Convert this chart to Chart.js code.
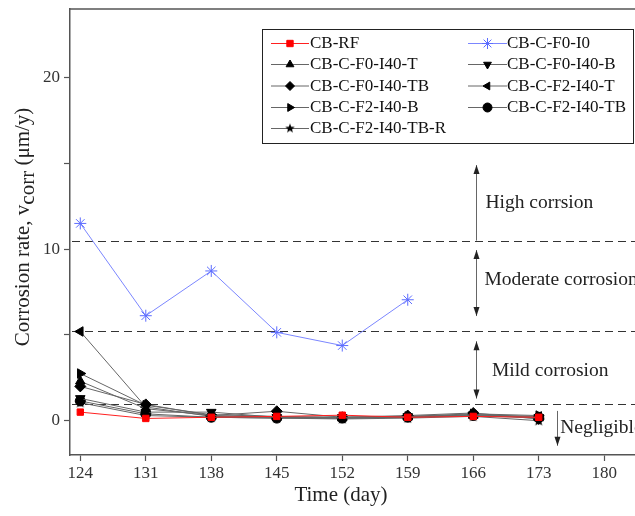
<!DOCTYPE html>
<html>
<head>
<meta charset="utf-8">
<script src="https://cdn.jsdelivr.net/npm/chart.js@4"></script>
<style>
  html, body { margin: 0; padding: 0; background: #fff; overflow: hidden; }
  canvas { display: block; }
</style>
</head>
<body>
<canvas id="chart" width="680" height="516" style="width:680px;height:516px"></canvas>
<script>
// ========= DATA ========= //
const days = [124, 131, 138, 145, 152, 159, 166, 173];
const xTicks = [124, 131, 138, 145, 152, 159, 166, 173, 180];
const yTicks = [0, 5, 10, 15, 20];
const yLabels = [0, 10, 20];

const cbRF      = [0.5, 0.13, 0.2, 0.25, 0.32, 0.2, 0.25, 0.2];
const cbF0I0    = [11.5, 6.12, 8.73, 5.15, 4.38, 7.05];
const cbF0I40T  = [2.3, 0.7, 0.3, 0.2, 0.15, 0.2, 0.3, 0.15];
const cbF0I40B  = [1.3, 0.5, 0.5, 0.2, 0.2, 0.25, 0.35, 0.2];
const cbF0I40TB = [2.0, 0.95, 0.3, 0.55, 0.2, 0.3, 0.45, 0.1];
const cbF2I40T  = [5.2, 0.8, 0.25, 0.2, 0.15, 0.2, 0.35, 0.25];
const cbF2I40B  = [2.75, 0.9, 0.35, 0.25, 0.2, 0.25, 0.4, 0.3];
const cbF2I40TB = [1.15, 0.4, 0.2, 0.15, 0.15, 0.2, 0.3, 0.2];
const cbF2I40TBR = [1.05, 0.3, 0.2, 0.15, 0.1, 0.15, 0.25, 0.0];

// corrosion level limits (dashed lines)
const limits = [10.5, 5.2, 1.0];

// ========= HELPERS ========= //
const FONT = '"Liberation Serif", "DejaVu Serif", serif';

function pts(vals) {
    return vals.map((v, i) => ({ x: days[i], y: v }));
}

// five pointed star marker (not built into Chart.js)
function makeStar(r) {
    const c = document.createElement("canvas");
    c.width = c.height = r * 2 + 2;
    const g = c.getContext("2d");
    g.fillStyle = "#000";
    g.beginPath();
    for (let k = 0; k < 10; k++) {
        const rr = k % 2 === 0 ? r : r * 0.42;
        const a = -Math.PI / 2 + k * Math.PI / 5;
        const px = r + 1 + rr * Math.cos(a);
        const py = r + 1 + rr * Math.sin(a);
        if (k === 0) g.moveTo(px, py); else g.lineTo(px, py);
    }
    g.closePath();
    g.fill();
    return c;
}
const starBig = makeStar(6);
const starSmall = makeStar(5);

function blackSeries(label, vals, style, rot, radius) {
    return {
        label: label,
        data: pts(vals),
        borderColor: "#666",
        borderWidth: 1,
        backgroundColor: "#000",
        pointBackgroundColor: "#000",
        pointBorderColor: "#000",
        pointBorderWidth: 1,
        pointStyle: style,
        pointRotation: rot,
        pointRadius: radius,
        tension: 0
    };
}

const datasets = [
    {
        label: "CB-RF", data: pts(cbRF),
        borderColor: "#ff2020", borderWidth: 1,
        pointBackgroundColor: "#ff0000", pointBorderColor: "#ff0000",
        pointStyle: "rect", pointRadius: 4.5, pointBorderWidth: 1
    },
    {
        label: "CB-C-F0-I0", data: pts(cbF0I0),
        borderColor: "#7b86ff", borderWidth: 1,
        pointBackgroundColor: "#5060ff", pointBorderColor: "#5c6cff",
        pointStyle: "star", pointRadius: 6, pointBorderWidth: 1
    },
    blackSeries("CB-C-F0-I40-T", cbF0I40T, "triangle", 0, 5.5),
    blackSeries("CB-C-F0-I40-B", cbF0I40B, "triangle", 180, 5.5),
    blackSeries("CB-C-F0-I40-TB", cbF0I40TB, "rectRot", 0, 5.5),
    blackSeries("CB-C-F2-I40-T", cbF2I40T, "triangle", -90, 5.5),
    blackSeries("CB-C-F2-I40-B", cbF2I40B, "triangle", 90, 5.5),
    blackSeries("CB-C-F2-I40-TB", cbF2I40TB, "circle", 0, 5),
    blackSeries("CB-C-F2-I40-TB-R", cbF2I40TBR, starBig, 0, 6)
];

// ========= ANNOTATIONS ========= //
const zones = [
    { text: "High corrsion",      tx: 167.3, ty: 12.7, ax: 166.3, from: 10.5, to: 14.9, heads: "end" },
    { text: "Moderate corrosion", tx: 167.2, ty: 8.2,  ax: 166.3, from: 9.95, to: 6.1,  heads: "both" },
    { text: "Mild corrosion",     tx: 168.0, ty: 2.9,  ax: 166.3, from: 4.63, to: 1.29, heads: "both" },
    { text: "Negligible",         tx: 175.3, ty: -0.4, ax: 174.9, from: 0.57, to: -1.46, heads: "end" }
];

function arrowHead(ctx, x, y, dir) {
    ctx.beginPath();
    ctx.moveTo(x, y);
    ctx.lineTo(x - 3, y - dir * 9);
    ctx.lineTo(x + 3, y - dir * 9);
    ctx.closePath();
    ctx.fill();
}

const decor = {
    id: "decor",
    beforeDatasetsDraw(chart) {
        const { ctx, chartArea: a, scales: { x, y } } = chart;
        ctx.save();
        // plot frame (top edge, right edge beyond view)
        ctx.strokeStyle = "#555";
        ctx.lineWidth = 1.5;
        ctx.beginPath();
        ctx.moveTo(a.left, a.top);
        ctx.lineTo(a.right, a.top);
        ctx.lineTo(a.right, a.bottom);
        ctx.stroke();

        // dashed limit lines
        ctx.strokeStyle = "#333";
        ctx.lineWidth = 1.2;
        ctx.setLineDash([8, 5]);
        limits.forEach(v => {
            const py = Math.round(y.getPixelForValue(v)) + 0.5;
            ctx.beginPath();
            ctx.moveTo(a.left + 2, py);
            ctx.lineTo(a.right, py);
            ctx.stroke();
        });
        ctx.setLineDash([]);

        // arrows + zone text
        ctx.strokeStyle = "#666";
        ctx.fillStyle = "#222";
        ctx.lineWidth = 1;
        zones.forEach(z => {
            const px = Math.round(x.getPixelForValue(z.ax)) + 0.5;
            const p1 = y.getPixelForValue(z.from);
            const p2 = y.getPixelForValue(z.to);
            ctx.beginPath();
            ctx.moveTo(px, p1);
            ctx.lineTo(px, p2);
            ctx.stroke();
            const dir = p2 > p1 ? 1 : -1;
            arrowHead(ctx, px, p2, dir);
            if (z.heads === "both") arrowHead(ctx, px, p1, -dir);

            ctx.font = "19.5px " + FONT;
            ctx.textAlign = "left";
            ctx.textBaseline = "middle";
            ctx.fillText(z.text, x.getPixelForValue(z.tx), y.getPixelForValue(z.ty));
        });
        ctx.restore();
    },
    afterDraw(chart) {
        const { ctx } = chart;
        const metas = chart.data.datasets;
        ctx.save();

        // legend box
        const lx = 262, ly = 29, lw = 371, lh = 114;
        ctx.fillStyle = "#fff";
        ctx.fillRect(lx, ly, lw, lh);
        ctx.strokeStyle = "#222";
        ctx.lineWidth = 1;
        ctx.strokeRect(lx + 0.5, ly + 0.5, lw, lh);

        const cols = [{ l0: 271, l1: 309, m: 290, t: 310 }, { l0: 468, l1: 507, m: 487.5, t: 507 }];
        const rowY = [43, 64, 85.5, 107, 128];
        ctx.font = "17px " + FONT;
        ctx.textBaseline = "middle";
        ctx.textAlign = "left";
        metas.forEach((ds, i) => {
            const c = cols[i % 2];
            const ry = rowY[Math.floor(i / 2)];
            ctx.strokeStyle = ds.borderColor;
            ctx.lineWidth = 1;
            ctx.beginPath();
            ctx.moveTo(c.l0, ry + 0.5);
            ctx.lineTo(c.l1, ry + 0.5);
            ctx.stroke();
            ctx.fillStyle = ds.pointBackgroundColor;
            ctx.strokeStyle = ds.pointBorderColor;
            let style = ds.pointStyle;
            if (style === starBig) style = starSmall;
            Chart.helpers.drawPoint(ctx, {
                pointStyle: style,
                rotation: ds.pointRotation || 0,
                radius: ds.pointStyle === "star" ? 5.5 : 4.5,
                borderWidth: 1
            }, c.m, ry + 0.5);
            ctx.fillStyle = "#111";
            ctx.fillText(ds.label, c.t, ry + 1);
        });

        // axis titles
        ctx.fillStyle = "#222";
        ctx.font = "21px " + FONT;
        ctx.textAlign = "center";
        ctx.textBaseline = "middle";
        ctx.fillText("Time (day)", 341, 495);

        ctx.translate(23, 227);
        ctx.rotate(-Math.PI / 2);
        const p1 = "Corrosion rate, v", sub = "corr", p2 = " (\u03bcm/y)";
        const w1 = ctx.measureText(p1).width;
        const w2 = ctx.measureText(sub).width;
        const w3 = ctx.measureText(p2).width;
        const sx = -(w1 + w2 + w3) / 2;
        ctx.textAlign = "left";
        ctx.fillText(p1, sx, 0);
        ctx.fillText(sub, sx + w1, 5);
        ctx.fillText(p2, sx + w1 + w2, 0);
        ctx.restore();
    }
};

// ========= CHART ========= //
new Chart(document.getElementById("chart"), {
    type: "line",
    data: { datasets: datasets },
    options: {
        responsive: false,
        animation: false,
        devicePixelRatio: 1,
        layout: { padding: { top: 9, right: 29, left: 0, bottom: 0 } },
        plugins: { legend: { display: false }, tooltip: { enabled: false } },
        scales: {
            x: {
                type: "linear",
                min: 122.9,
                max: 185,
                afterBuildTicks: s => { s.ticks = xTicks.map(v => ({ value: v })); },
                afterFit: s => { s.height = 61; s.paddingLeft = 0; s.paddingRight = 0; },
                border: { color: "#555", width: 1.5 },
                grid: { drawOnChartArea: false, tickLength: 6, tickColor: "#555", tickWidth: 1.2 },
                ticks: { color: "#333", font: { family: FONT, size: 17 }, padding: 2, maxRotation: 0, autoSkip: false }
            },
            y: {
                min: -2,
                max: 24,
                afterBuildTicks: s => { s.ticks = yTicks.map(v => ({ value: v })); },
                afterFit: s => { s.width = 70; s.paddingTop = 0; s.paddingBottom = 0; },
                border: { color: "#555", width: 1.5 },
                grid: { drawOnChartArea: false, tickLength: 6, tickColor: "#555", tickWidth: 1.2 },
                ticks: {
                    color: "#333",
                    font: { family: FONT, size: 17 },
                    padding: 4,
                    autoSkip: false,
                    callback: v => (yLabels.includes(v) ? String(v) : "")
                }
            }
        }
    },
    plugins: [decor]
});
</script>
</body>
</html>
